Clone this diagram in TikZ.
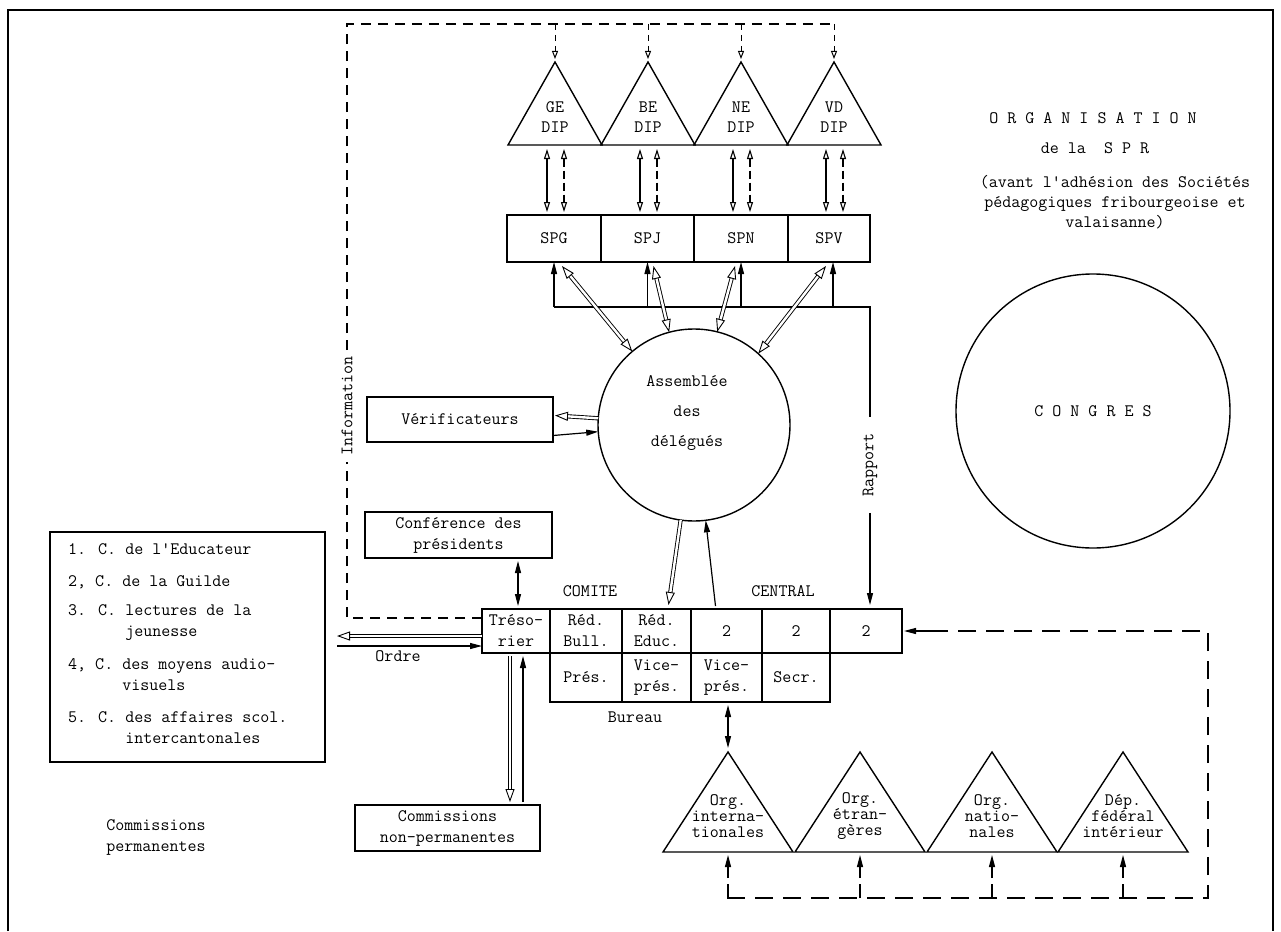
\documentclass[tikz,border=0pt]{standalone}
\usetikzlibrary{arrows.meta}
\tikzset{
  box/.style={draw, line width=1.4pt, align=center, inner sep=2pt, outer sep=0pt},
  cell/.style={box, anchor=north west, minimum height=44pt, inner sep=0pt},
  lbl/.style={align=center, inner sep=1pt},
  fa/.style={line width=1.2pt, -{Triangle[length=12pt,width=6pt]}},
  fab/.style={line width=1.2pt, {Triangle[length=12pt,width=6pt]}-{Triangle[length=12pt,width=6pt]}},
  dbl/.style={line width=0.9pt, double distance=2.4pt},
  oa/.style={dbl, -{Triangle[open,length=13pt,width=9pt]}},
  oab/.style={dbl, {Triangle[open,length=13pt,width=9pt]}-{Triangle[open,length=13pt,width=9pt]}},
  ob/.style={line width=1.1pt, {Triangle[open,length=10pt,width=6pt]}-{Triangle[open,length=10pt,width=6pt]}},
  da/.style={line width=1pt, dash pattern=on 6pt off 5pt, -{Triangle[open,length=8pt,width=6pt]}},
  dd/.style={line width=1.2pt, dash pattern=on 10pt off 7pt},
  dl/.style={line width=1.5pt, dash pattern=on 18pt off 10pt}
}
\begin{document}
\begin{tikzpicture}[x=1pt, y=-1pt,
    font=\fontsize{17.5}{21}\selectfont\ttfamily]
  \useasboundingbox (0,0) rectangle (1281,931);
  % frame of the page
  \draw[line width=1.4pt] (8,931) -- (8,10) -- (1273,10) -- (1273,931);

  % title, top right
  \node[lbl] (titre) at (1093,118) {O R G A N I S A T I O N};
  \node[lbl] (spr) at (1095,148) {de la\ \ S P R};
  \node[lbl, font=\fontsize{17.5}{20}\selectfont\ttfamily] (avant) at (1115,202)
    {(avant l'adhésion des Sociétés\\pédagogiques fribourgeoise et\\valaisanne)};
  % the congress
  \node[box, circle, minimum size=274pt] (congres) at (1093,411) {C O N G R E S};

  % the DIP triangles
  \foreach \name/\x in {ge/555, be/648, ne/741, vd/834} {
    \draw[line width=1.4pt] (\x-47,145) -- (\x,62) -- (\x+47,145) -- cycle;
    \coordinate (\name-top) at (\x,62);
    \coordinate (\name-base) at (\x,145);
  }
  \node[lbl, font=\fontsize{17.5}{20}\selectfont\ttfamily] (ge) at (555,117) {GE\\DIP};
  \node[lbl, font=\fontsize{17.5}{20}\selectfont\ttfamily] (be) at (648,117) {BE\\DIP};
  \node[lbl, font=\fontsize{17.5}{20}\selectfont\ttfamily] (ne) at (741,117) {NE\\DIP};
  \node[lbl, font=\fontsize{17.5}{20}\selectfont\ttfamily] (vd) at (834,117) {VD\\DIP};

  % the cantonal sections
  \node[cell, minimum width=94pt, minimum height=47pt] (spg) at (507,215) {SPG};
  \node[cell, minimum width=93pt, minimum height=47pt] (spj) at (spg.north east) {SPJ};
  \node[cell, minimum width=94pt, minimum height=47pt] (spn) at (spj.north east) {SPN};
  \node[cell, minimum width=82pt, minimum height=47pt] (spv) at (spn.north east) {SPV};

  % Assemblee des delegues
  \node[box, circle, minimum size=192pt] (assemblee) at (694,425) {};
  \node[lbl, font=\fontsize{17.5}{30}\selectfont\ttfamily] (assembleetxt) at (687,413)
    {Assemblée\\des\\délégués};
  \node[box, minimum width=186pt, minimum height=45pt] (verif) at (460,419.5) {Vérificateurs};
  \node[box, minimum width=187pt, minimum height=46pt] (conf) at (458.5,535)
    {Conférence des\\présidents};

  % Comite central, first row
  \node[cell, minimum width=68pt] (tresorier) at (482,609) {Tréso-\\rier};
  \node[cell, minimum width=72pt] (redbull) at (tresorier.north east) {Réd.\\Bull.};
  \node[cell, minimum width=69pt] (rededuc) at (redbull.north east) {Réd.\\Educ.};
  \node[cell, minimum width=71pt] (mbrA) at (rededuc.north east) {2};
  \node[cell, minimum width=68pt] (mbrB) at (mbrA.north east) {2};
  \node[cell, minimum width=72pt] (mbrC) at (mbrB.north east) {2};
  % Bureau, second row
  \node[cell, minimum width=72pt, minimum height=49pt] (pres) at (redbull.south west) {Prés.};
  \node[cell, minimum width=69pt, minimum height=49pt] (vpA) at (pres.north east) {Vice-\\prés.};
  \node[cell, minimum width=71pt, minimum height=49pt] (vpB) at (vpA.north east) {Vice-\\prés.};
  \node[cell, minimum width=68pt, minimum height=49pt] (secr) at (vpB.north east) {Secr.};
  \node[lbl] (comite) at (590,591) {COMITE};
  \node[lbl] (central) at (783,591) {CENTRAL};
  \node[lbl] (bureau) at (635,717) {Bureau};

  % permanent commissions
  \node[box, minimum width=275pt, minimum height=230pt] (permbox) at (187.5,647) {};
  \node[anchor=west, inner sep=0pt] (item1) at (68,549) {1. C. de l'Educateur};
  \node[anchor=west, inner sep=0pt] (item2) at (68,582) {2, C. de la Guilde};
  \node[anchor=west, align=left, inner sep=0pt] (item3) at (68,622.5)
    {3. C. lectures de la\\\phantom{3. C. }jeunesse};
  \node[anchor=west, align=left, inner sep=0pt] (item4) at (68,676)
    {4, C. des moyens audio-\\\phantom{4, C. }visuels};
  \node[anchor=west, align=left, inner sep=0pt] (item5) at (68,728)
    {5. C. des affaires scol.\\\phantom{5. C. }intercantonales};
  \node[lbl] (commperm) at (156,837) {Commissions\\permanentes};
  \node[box, minimum width=185pt, minimum height=46pt] (commnp) at (447.5,828)
    {Commissions\\non-permanentes};

  % the outside organisations
  \foreach \name/\x in {orgint/728, orgetr/860, orgnat/992, depfed/1123} {
    \draw[line width=1.4pt] (\x-65,852) -- (\x,752) -- (\x+65,852) -- cycle;
    \coordinate (\name-top) at (\x,752);
    \coordinate (\name-base) at (\x,852);
  }
  \tikzset{orgtxt/.style={lbl, font=\fontsize{17.5}{16}\selectfont\ttfamily}}
  \node[orgtxt] (orgint) at (728,816) {Org.\\interna-\\tionales};
  \node[orgtxt] (orgetr) at (860,816) {Org.\\étran-\\gères};
  \node[orgtxt] (orgnat) at (992,816) {Org.\\natio-\\nales};
  \node[orgtxt] (depfed) at (1123,816) {Dép.\\fédéral\\intérieur};

  % Information, dashed loop to the DIP
  \coordinate (infoBL) at (347,618);
  \coordinate (infoTL) at (347,24);
  \coordinate (infoTR) at (834,24);
  \node[lbl, rotate=90, fill=white, inner xsep=6pt] (info) at (347,406) {Information};
  \draw[dd] (tresorier.west |- infoBL) -- (infoBL) -- (info.west);
  \draw[dd] (info.east) -- (infoTL) -- (infoTR);
  \foreach \name in {ge, be, ne, vd}
    \draw[da] (\name-top |- infoTR) -- ([yshift=3pt]\name-top);

  % DIP <-> sections
  \foreach \name/\cell in {ge/spg, be/spj, ne/spn, vd/spv} {
    \draw[ob] ([xshift=-8pt,yshift=-4pt]\name-base) -- ([xshift=-8pt,yshift=3pt]\name-base |- \cell.north);
    \draw[ob, dash pattern=on 8pt off 4pt] ([xshift=9pt,yshift=-4pt]\name-base) -- ([xshift=9pt,yshift=3pt]\name-base |- \cell.north);
  }

  % Rapport line to the sections
  \coordinate (busL) at (554,307);
  \coordinate (busR) at (870,307);
  \node[lbl, rotate=90, inner xsep=16pt] (rapport) at (870,465) {Rapport};
  \draw[line width=1.2pt] (busL) -- (busR) -- (rapport.east);
  \draw[fa] (rapport.west) -- ([yshift=4pt]mbrC.north -| busR);
  \foreach \cell in {spg, spj, spn}
    \draw[fa] (\cell.south |- busL) -- (\cell.south);
  \draw[fa] ([xshift=4pt]spv.south |- busL) -- ([xshift=4pt]spv.south);

  % sections <-> assemblee
  \draw[oab] ([xshift=8pt,yshift=-4pt]spg.south) -- (assemblee.130);
  \draw[oab] ([xshift=6pt,yshift=-4pt]spj.south) -- (assemblee.105);
  \draw[oab] ([xshift=-6pt,yshift=-4pt]spn.south) -- (assemblee.76);
  \draw[oab] ([xshift=-3pt,yshift=-4pt]spv.south) -- (assemblee.48);

  % verificateurs
  \draw[oa] (assemblee.176) -- ([xshift=2pt,yshift=4pt]verif.east);
  \draw[fa] ([yshift=-16pt]verif.east) -- (assemblee.184);

  % assemblee <-> comite
  \draw[oa] (assemblee.262) -- ([xshift=12pt,yshift=4pt]rededuc.north);
  \draw[fa] ([xshift=-11pt,yshift=3pt]mbrA.north) -- (assemblee.277);

  % conference <-> tresorier
  \draw[fab] ([xshift=2pt,yshift=-3pt]tresorier.north |- conf.south) -- ([xshift=2pt,yshift=3pt]tresorier.north);

  % Ordre, to the permanent commissions
  \coordinate (ordreL) at (337,641);
  \draw[oa] ([yshift=-5pt]tresorier.west) -- ([yshift=-5pt]tresorier.west -| ordreL);
  \draw[fa] ([yshift=-15pt]tresorier.west -| ordreL) -- ([yshift=-15pt]tresorier.west);
  \node[lbl] (ordre) at (398,656) {Ordre};

  % tresorier <-> non-permanent commissions
  \draw[oa] ([xshift=-6pt,yshift=-3pt]tresorier.south) -- ([xshift=-6pt,yshift=3pt]tresorier.south |- commnp.north);
  \draw[fa] ([xshift=7pt,yshift=3pt]tresorier.south |- commnp.north) -- ([xshift=7pt,yshift=-3pt]tresorier.south);

  % bureau <-> outside organisations
  \draw[fab] ([yshift=-3pt]orgint-top |- vpB.south) -- ([yshift=4pt]orgint-top);
  \coordinate (loopBL) at (727,898);
  \coordinate (loopBR) at (1208,898);
  \draw[dl] (loopBL) -- (loopBR) -- (mbrC.east -| loopBR) -- ([xshift=40pt]mbrC.east);
  \draw[fa] ([xshift=40pt]mbrC.east) -- ([xshift=2pt]mbrC.east);
  \foreach \name in {orgint, orgetr, orgnat, depfed}
    \draw[fa, dash pattern=on 14pt off 6pt] (\name-base |- loopBL) -- ([yshift=-3pt]\name-base);
\end{tikzpicture}
\end{document}
